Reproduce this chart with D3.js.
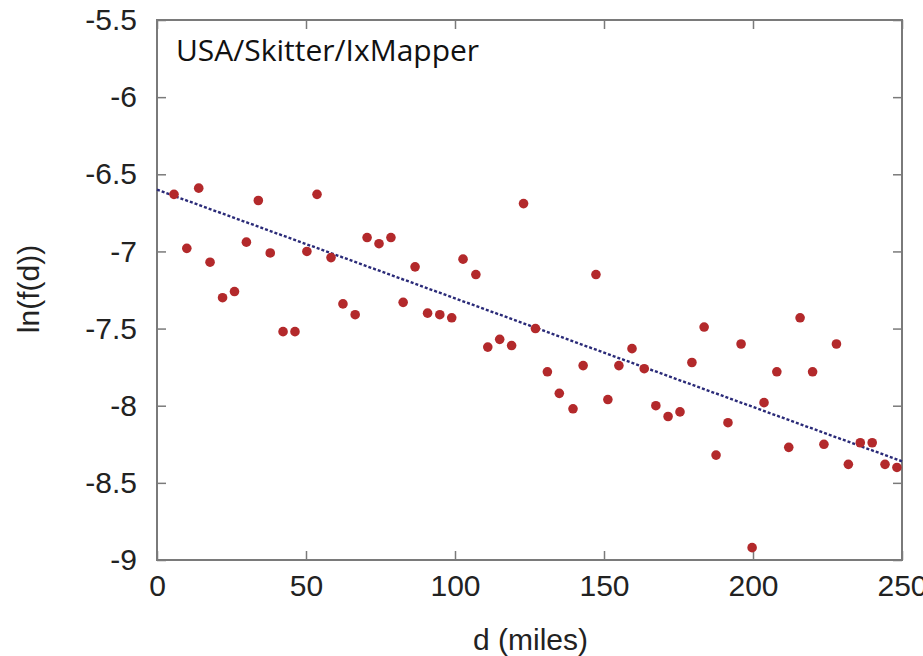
<!DOCTYPE html>
<html>
<head>
<meta charset="utf-8">
<script src="https://cdn.jsdelivr.net/npm/d3@7"></script>
<style>
  body { margin: 0; background: #fff; }
  .tick text { font-family: "Liberation Sans", Arial, sans-serif; }
</style>
</head>
<body>
<svg id="canvas" width="923" height="656"></svg>
<script>
// distance (miles) and ln(f(d))
const distances = [5.7, 10, 14, 17.8, 22, 26, 30, 34, 38, 42.3,
    46.3, 50.3, 53.7, 58.4, 62.4, 66.5, 70.5, 74.5, 78.5, 82.6,
    86.6, 90.8, 94.9, 98.9, 102.7, 107, 111, 115, 119, 123,
    127, 131, 135, 139.6, 143, 147.3, 151.3, 155, 159.4, 163.5,
    167.4, 171.5, 175.5, 179.5, 183.6, 187.6, 191.6, 196, 199.7, 203.7,
    208, 212, 215.8, 220, 223.8, 228, 232, 236, 240, 244.3,
    248.3];
const lnFd = [-6.63, -6.98, -6.59, -7.07, -7.30, -7.26, -6.94, -6.67, -7.01, -7.52,
    -7.52, -7.00, -6.63, -7.04, -7.34, -7.41, -6.91, -6.95, -6.91, -7.33,
    -7.10, -7.40, -7.41, -7.43, -7.05, -7.15, -7.62, -7.57, -7.61, -6.69,
    -7.50, -7.78, -7.92, -8.02, -7.74, -7.15, -7.96, -7.74, -7.63, -7.76,
    -8.00, -8.07, -8.04, -7.72, -7.49, -8.32, -8.11, -7.60, -8.92, -7.98,
    -7.78, -8.27, -7.43, -7.78, -8.25, -7.60, -8.38, -8.24, -8.24, -8.38,
    -8.40];

// fitted line end points
const fitX = [0, 250];
const fitY = [-6.6, -8.36];

const xTicks = [0, 50, 100, 150, 200, 250];
const yTicks = [-5.5, -6, -6.5, -7, -7.5, -8, -8.5, -9];

const title = "USA/Skitter/IxMapper";

const svg = d3.select("#canvas");
const margin = {top: 20, right: 21, bottom: 96, left: 157};
const width = 923 - margin.left - margin.right;
const height = 656 - margin.top - margin.bottom;

const g = svg.append("g")
    .attr("transform", `translate(${margin.left},${margin.top})`);

const x = d3.scaleLinear().domain([0, 250]).range([0, width]);
const y = d3.scaleLinear().domain([-9, -5.5]).range([height, 0]);

const frameColor = "#7a7a7a";
const tickLen = 9;

// Axes (ticks pointing inward, mirrored on top/right)
function styleAxis(sel) {
    sel.select(".domain").remove();
    sel.selectAll(".tick line").attr("stroke", frameColor).attr("stroke-width", 1.5);
    sel.selectAll(".tick text")
        .attr("fill", "#222")
        .style("font-size", "30px");
}

g.append("g")
    .attr("transform", `translate(0,${height})`)
    .call(d3.axisBottom(x).tickValues(xTicks).tickSize(-tickLen).tickPadding(15)
        .tickFormat(d3.format("d")))
    .call(styleAxis)
    .selectAll(".tick text").attr("dy", "0.71em");

g.append("g")
    .call(d3.axisTop(x).tickValues(xTicks).tickSize(-tickLen).tickFormat(""))
    .call(styleAxis);

g.append("g")
    .call(d3.axisLeft(y).tickValues(yTicks).tickSize(-tickLen).tickPadding(20)
        .tickFormat(d => d))
    .call(styleAxis);

g.append("g")
    .attr("transform", `translate(${width},0)`)
    .call(d3.axisRight(y).tickValues(yTicks).tickSize(-tickLen).tickFormat(""))
    .call(styleAxis);

// Frame
g.append("rect")
    .attr("width", width)
    .attr("height", height)
    .attr("fill", "none")
    .attr("stroke", frameColor)
    .attr("stroke-width", 2);

// Fit line
g.append("line")
    .attr("x1", x(fitX[0])).attr("y1", y(fitY[0]))
    .attr("x2", x(fitX[1])).attr("y2", y(fitY[1]))
    .attr("stroke", "#2a2a78")
    .attr("stroke-width", 2.4)
    .attr("stroke-dasharray", "3,2");

// Points
g.selectAll("circle.pt")
    .data(distances.map((d, i) => [d, lnFd[i]]))
    .enter()
    .append("circle")
    .attr("class", "pt")
    .attr("cx", d => x(d[0]))
    .attr("cy", d => y(d[1]))
    .attr("r", 4.8)
    .attr("fill", "#b3292b");

// Annotation
g.append("text")
    .attr("x", 19)
    .attr("y", 41)
    .style("font-family", "'Open Sans', sans-serif")
    .style("font-size", "30px")
    .attr("fill", "#111")
    .text(title);

// Axis labels
svg.append("text")
    .attr("x", margin.left + width / 2 + 1)
    .attr("y", 650)
    .attr("text-anchor", "middle")
    .style("font-family", "'Liberation Sans', Arial, sans-serif")
    .style("font-size", "30px")
    .attr("fill", "#222")
    .text("d (miles)");

svg.append("text")
    .attr("transform", "translate(39,289) rotate(-90)")
    .attr("text-anchor", "middle")
    .style("font-family", "'Liberation Sans', Arial, sans-serif")
    .style("font-size", "30px")
    .attr("fill", "#222")
    .text("ln(f(d))");
</script>
</body>
</html>
